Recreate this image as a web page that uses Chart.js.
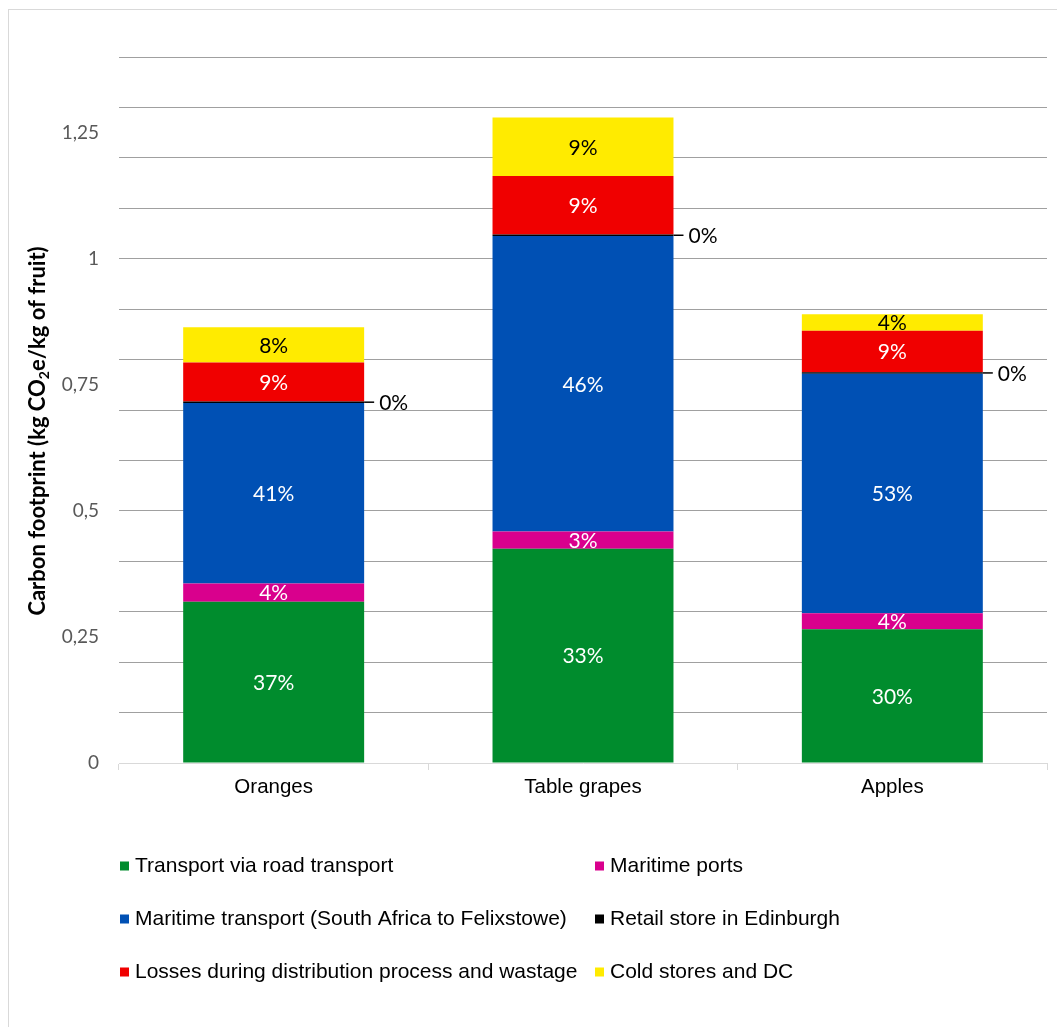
<!DOCTYPE html>
<html>
<head>
<meta charset="utf-8">
<script src="https://cdn.jsdelivr.net/npm/chart.js@4.4.1/dist/chart.umd.min.js"></script>
<style>
  html, body { margin: 0; padding: 0; background: #fff; }
  #wrap { width: 1057px; height: 1027px; position: relative; }
  canvas { display: block; }
</style>
</head>
<body>
<div id="wrap"><canvas id="c" width="1057" height="1027" style="width:1057px;height:1027px"></canvas></div>
<script>
// Carbon footprint per kg of fruit, split by supply-chain stage (kg CO2e/kg)
const categories = ['Oranges', 'Table grapes', 'Apples'];
const roadTransport     = [0.320, 0.425, 0.265];
const maritimePorts     = [0.036, 0.034, 0.032];
const maritimeTransport = [0.358, 0.586, 0.475];
const retailStore       = [0.003, 0.003, 0.003];
const lossesWastage     = [0.077, 0.116, 0.082];
const coldStores        = [0.070, 0.116, 0.033];

const seriesNames = [
  'Transport via road transport',
  'Maritime ports',
  'Maritime transport (South Africa to Felixstowe)',
  'Retail store in Edinburgh',
  'Losses during distribution process and wastage',
  'Cold stores and DC'
];
const seriesValues = [roadTransport, maritimePorts, maritimeTransport, retailStore, lossesWastage, coldStores];
const seriesColors = ['#008C2D', '#D9008D', '#0050B4', '#000000', '#F00000', '#FFEB00'];
const labelColors  = ['#ffffff', '#ffffff', '#ffffff', '#000000', '#ffffff', '#000000'];

const yMax = 1.4;
const yStep = 0.05;

const totals = categories.map((_, i) => seriesValues.reduce((s, arr) => s + arr[i], 0));

const isMultiple = (v, m) => Math.abs(v / m - Math.round(v / m)) < 1e-6;

const LABEL_FONT = 'Lato, "Open Sans", sans-serif';
const ARIAL = '"Liberation Sans", Arial, sans-serif';

// Percent labels inside each segment; the tiny retail segment gets an outside leader label
const segmentLabels = {
  id: 'segmentLabels',
  afterDatasetsDraw(chart) {
    const ctx = chart.ctx;
    ctx.save();
    ctx.font = '21px ' + LABEL_FONT;
    ctx.textBaseline = 'middle';
    chart.data.datasets.forEach((ds, di) => {
      const meta = chart.getDatasetMeta(di);
      meta.data.forEach((bar, i) => {
        const pct = Math.round(ds.data[i] / totals[i] * 100) + '%';
        if (di === 3) {
          const right = bar.x + bar.width / 2;
          const y = (bar.y + bar.base) / 2;
          ctx.strokeStyle = '#000';
          ctx.lineWidth = 1.5;
          ctx.beginPath();
          ctx.moveTo(right, y);
          ctx.lineTo(right + 10, y);
          ctx.stroke();
          ctx.fillStyle = '#000';
          ctx.textAlign = 'left';
          ctx.fillText(pct, right + 15, y + 1);
        } else {
          ctx.fillStyle = labelColors[di];
          ctx.textAlign = 'center';
          ctx.fillText(pct, bar.x, (bar.y + bar.base) / 2 + 1);
        }
      });
    });
    ctx.restore();
  }
};

// Vertical axis title with a subscript "2", plus the two-column legend and outer frame
const decorations = {
  id: 'decorations',
  afterDraw(chart) {
    const ctx = chart.ctx;
    ctx.save();
    // frame
    ctx.strokeStyle = '#d9d9d9';
    ctx.lineWidth = 1;
    ctx.strokeRect(8.5, 9.5, 1060, 1030);

    // y axis title
    const parts = [
      { t: 'Carbon footprint (kg CO', f: 'bold 22px ' + LABEL_FONT, dy: 0 },
      { t: '2', f: 'bold 14px ' + LABEL_FONT, dy: 6 },
      { t: 'e/kg of fruit)', f: 'bold 22px ' + LABEL_FONT, dy: 0 }
    ];
    let total = 0;
    parts.forEach(p => { ctx.font = p.f; p.w = ctx.measureText(p.t).width; total += p.w; });
    ctx.translate(38, 431);
    ctx.rotate(-Math.PI / 2);
    ctx.fillStyle = '#000';
    ctx.textBaseline = 'middle';
    ctx.textAlign = 'left';
    let x = -total / 2;
    parts.forEach(p => { ctx.font = p.f; ctx.fillText(p.t, x, p.dy); x += p.w; });
    ctx.setTransform(1, 0, 0, 1, 0, 0);

    // legend
    const colX = [120, 595];
    const rowY = [866, 919, 972];
    ctx.font = '21px ' + ARIAL;
    ctx.textBaseline = 'middle';
    seriesNames.forEach((name, i) => {
      const cx = colX[i % 2];
      const cy = rowY[Math.floor(i / 2)];
      ctx.fillStyle = seriesColors[i];
      ctx.fillRect(cx, cy - 4.5, 9, 9);
      ctx.fillStyle = '#000';
      ctx.fillText(name, cx + 15, cy);
    });
    ctx.restore();
  }
};

new Chart(document.getElementById('c'), {
  type: 'bar',
  data: {
    labels: categories,
    datasets: seriesNames.map((name, i) => ({
      label: name,
      data: seriesValues[i],
      backgroundColor: seriesColors[i],
      borderWidth: 0,
      barPercentage: 0.585,
      categoryPercentage: 1.0
    }))
  },
  options: {
    responsive: false,
    devicePixelRatio: 1,
    animation: false,
    layout: { padding: { left: 0, right: 10, top: 57, bottom: 204 } },
    plugins: {
      legend: { display: false },
      tooltip: { enabled: false }
    },
    scales: {
      x: {
        stacked: true,
        grid: { offset: true, drawOnChartArea: false, drawTicks: true, tickLength: 7, color: '#d9d9d9' },
        border: { color: '#d9d9d9', width: 1 },
        ticks: { color: '#000', font: { family: ARIAL, size: 20.5 }, padding: 5 },
        afterFit(s) { s.height = 60; }
      },
      y: {
        stacked: true,
        min: 0,
        max: yMax,
        border: { display: false },
        grid: {
          drawTicks: false,
          color: c => (c.tick && c.tick.value > 0 && isMultiple(c.tick.value, 0.1)) ? '#a0a0a0' : 'rgba(0,0,0,0)',
          lineWidth: 1
        },
        ticks: {
          stepSize: yStep,
          autoSkip: false,
          padding: 20,
          color: '#595959',
          font: { family: LABEL_FONT, size: 19 },
          callback: v => isMultiple(v, 0.25) ? String(Math.round(v * 100) / 100).replace('.', ',') : ''
        },
        afterFit(s) { s.width = 119; }
      }
    }
  },
  plugins: [segmentLabels, decorations]
});
</script>
</body>
</html>
